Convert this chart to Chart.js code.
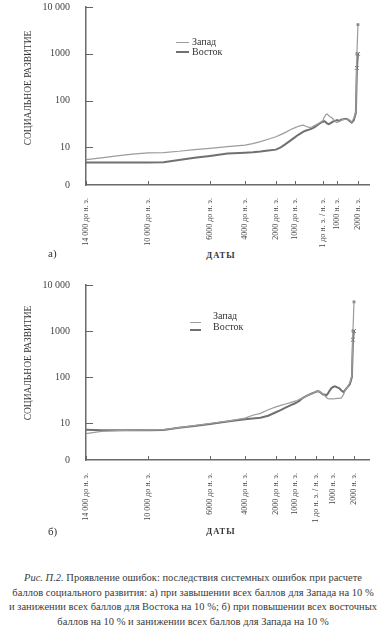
<!DOCTYPE html>
<html>
<head>
<meta charset="utf-8">
<script src="https://cdn.jsdelivr.net/npm/chart.js@4.4.1/dist/chart.umd.min.js"></script>
<style>
  body { margin: 0; background: #fff; width: 386px; height: 640px; position: relative; overflow: hidden;
         font-family: "Liberation Serif", "DejaVu Serif", serif; color: #333; }
  canvas { position: absolute; left: 0; }
  .ytitle { position: absolute; font-size: 9.5px; white-space: nowrap; transform: translate(-50%, -50%) rotate(-90deg); }
  .tag { position: absolute; font-size: 11px; line-height: 12px; }
  .axt { position: absolute; font-size: 8.5px; font-weight: bold; letter-spacing: 1px; line-height: 10px; transform: translateX(-50%); }
  .leg { position: absolute; font-size: 10px; line-height: 12px; white-space: nowrap; }
  .smp { position: absolute; height: 0; }
  .cap { position: absolute; left: 0; top: 571px; width: 386px; text-align: center; font-size: 10.5px; line-height: 14.7px; color: #3a3a3a; }
  .cap div { white-space: nowrap; }
</style>
</head>
<body>
<canvas id="chartA" width="386" height="250" style="top:0"></canvas>
<canvas id="chartB" width="386" height="250" style="top:278px"></canvas>

<div class="ytitle" style="left:28px; top:88px">СОЦИАЛЬНОЕ РАЗВИТИЕ</div>
<div class="ytitle" style="left:28px; top:363px">СОЦИАЛЬНОЕ РАЗВИТИЕ</div>

<div class="tag" style="left:48px; top:247px">а)</div>
<div class="axt" style="left:221px; top:250px">ДАТЫ</div>
<div class="tag" style="left:48px; top:525px">б)</div>
<div class="axt" style="left:221px; top:526px">ДАТЫ</div>

<!-- legends -->
<div class="smp" style="left:176px; top:42px; width:13px; border-top:1px solid #9c9c9c"></div>
<div class="smp" style="left:176px; top:51px; width:13px; border-top:2px solid #707070"></div>
<div class="leg" style="left:192px; top:36px">Запад</div>
<div class="leg" style="left:192px; top:46px">Восток</div>

<div class="smp" style="left:190px; top:322px; width:11px; border-top:1px solid #9c9c9c"></div>
<div class="smp" style="left:190px; top:329px; width:11px; border-top:2px solid #707070"></div>
<div class="leg" style="left:213px; top:310px">Запад</div>
<div class="leg" style="left:213px; top:321px">Восток</div>

<div class="cap">
  <div><i>Рис. П.2.</i> Проявление ошибок: последствия системных ошибок при расчете</div>
  <div>баллов социального развития: а) при завышении всех баллов для Запада на 10 %</div>
  <div>и занижении всех баллов для Востока на 10 %; б) при повышении всех восточных</div>
  <div>баллов на 10 % и занижении всех баллов для Запада на 10 %</div>
</div>

<script>
// даты (годы, минус = до н. э.)
const years = [-14000, -13000, -12000, -11000, -10000, -9000, -8000, -7000, -6000, -5000, -4000,
  -3500, -3000, -2500, -2000, -1750, -1500, -1250, -1000,
  -900, -800, -700, -600, -500, -400, -300, -200, -100, 0,
  100, 200, 300, 400, 500, 600, 700, 800, 900, 1000,
  1100, 1200, 1300, 1400, 1500, 1600, 1700, 1800, 1900, 1950, 2000];

// а) Запад +10 %, Восток -10 %
const westA = [5.5, 6.0, 6.6, 7.2, 7.7, 7.8, 8.3, 9.0, 9.6, 10.4, 11.2,
  12.1, 13.3, 15, 16.9, 18.8, 21, 24, 26.5,
  28, 29.3, 30, 28, 27, 27.3, 29.3, 31.5, 34, 37.5,
  44, 50, 52, 48, 46, 43.5, 41, 38, 35.5, 34,
  36, 38, 40, 40, 41, 38, 35, 42, 60, 1000, 4200];
const eastA = [4.8, 4.8, 4.8, 4.8, 4.8, 4.85, 5.4, 6.0, 6.6, 7.4, 7.7,
  7.9, 8.2, 8.6, 9.0, 10.1, 11.8, 14, 16.6,
  18.4, 20, 21.8, 23, 24, 25.3, 27.2, 30, 33, 35.5,
  36.6, 35, 32.5, 31.5, 32.5, 34, 35.5, 36.6, 37.5, 38.5,
  37, 39, 40, 41, 40, 37, 34, 38, 55, 500, 1000];

// б) Восток +10 %, Запад -10 %
const westB = [5.9, 6.6, 6.9, 7.0, 7.0, 7.2, 8.0, 8.8, 9.8, 11, 12.8,
  14.8, 16.3, 19.5, 22.5, 24.2, 26, 27.8, 30,
  31, 33, 34.5, 36.5, 38, 40, 42, 44, 46, 48.5,
  49, 48.5, 46, 43, 40, 36.5, 34, 33.7, 33.7, 33.7,
  34, 34.5, 34.5, 35.3, 42, 54, 61, 75, 110, 1000, 4300];
const eastB = [7.2, 7.0, 7.0, 7.0, 7.0, 7.1, 7.9, 8.7, 9.6, 10.8, 12.1,
  12.6, 13.1, 14.5, 17.2, 19.2, 21.6, 24.2, 27,
  28.5, 30.4, 33.5, 36, 38, 40, 42, 44, 46, 48,
  49.5, 48, 45, 42, 42, 40, 44, 51, 57, 61,
  63, 60, 57, 51, 47, 54, 61, 70, 100, 650, 1000];

const tickYears = [-14000, -10000, -6000, -4000, -2000, -1000, 0, 1000, 2000];
const tickLabels = ['14 000 до н. э.', '10 000 до н. э.', '6000 до н. э.', '4000 до н. э.',
  '2000 до н. э.', '1000 до н. э.', '1 до н. э. / н. э.', '1000 н. э.', '2000 н. э.'];
const yMin = 1.58;
const yTicks = [10, 100, 1000, 10000];

// шкала дат в книге неравномерная: кусочно-линейная ось
class WarpScale extends Chart.LinearScale {
  getPixelForValue(value) {
    const ky = this.options.knotYears, kf = this.options.knotFrac;
    let i = 0;
    while (i < ky.length - 2 && value > ky[i + 1]) i++;
    const f = kf[i] + (value - ky[i]) / (ky[i + 1] - ky[i]) * (kf[i + 1] - kf[i]);
    return this.getPixelForDecimal(f);
  }
}
WarpScale.id = 'warp';
WarpScale.defaults = {};
Chart.register(WarpScale);

const innerTicks = {
  id: 'innerTicks',
  afterDraw(chart) {
    const { ctx, scales: { x, y } } = chart;
    ctx.save();
    ctx.strokeStyle = '#666';
    ctx.lineWidth = 1;
    y.ticks.forEach((t, i) => {
      if (i === 0) return;
      const py = Math.round(y.getPixelForValue(t.value)) + 0.5;
      ctx.beginPath(); ctx.moveTo(x.left, py); ctx.lineTo(x.left + 7, py); ctx.stroke();
    });
    x.ticks.forEach(t => {
      const px = Math.round(x.getPixelForValue(t.value)) + 0.5;
      ctx.beginPath(); ctx.moveTo(px, y.bottom); ctx.lineTo(px, y.bottom - 4); ctx.stroke();
    });
    ctx.restore();
  }
};

function series(vals) {
  return years.map((yr, i) => ({ x: yr, y: vals[i] }));
}

function makeChart(id, west, east, knotFrac, topGap, xAxisH) {
  return new Chart(document.getElementById(id), {
    type: 'line',
    data: {
      datasets: [
        { label: 'Запад', data: series(west), borderColor: '#9c9c9c', borderWidth: 1.2,
          pointRadius: c => (c.raw && c.raw.y >= 400 ? 2 : 0), pointStyle: 'rect',
          pointBackgroundColor: '#8a8a8a', pointBorderWidth: 0, tension: 0 },
        { label: 'Восток', data: series(east), borderColor: '#707070', borderWidth: 2,
          pointRadius: c => (c.raw && c.raw.y >= 400 ? 2.5 : 0), pointStyle: 'crossRot',
          pointBorderColor: '#555', pointBorderWidth: 1, tension: 0 }
      ]
    },
    options: {
      responsive: false,
      animation: false,
      devicePixelRatio: 1,
      layout: { padding: { top: 0, right: 17, left: 0, bottom: 0 } },
      plugins: { legend: { display: false }, tooltip: { enabled: false } },
      scales: {
        x: {
          type: 'warp',
          min: -14000, max: 2500,
          knotYears: [-14000, -10000, -6000, -4000, -2000, -1000, 0, 1000, 2000, 2500],
          knotFrac: knotFrac,
          afterBuildTicks: s => { s.ticks = tickYears.map(v => ({ value: v })); },
          afterFit: s => { s.height = xAxisH; },
          grid: { display: false },
          border: { display: true, color: '#6a6a6a', width: 1.5 },
          ticks: {
            autoSkip: false, minRotation: 90, maxRotation: 90, padding: 5,
            color: '#444', font: { family: 'Liberation Serif', size: 8 },
            callback: v => tickLabels[tickYears.indexOf(v)]
          }
        },
        y: {
          type: 'logarithmic',
          min: yMin, max: 10000,
          afterBuildTicks: s => { s.ticks = [yMin, ...yTicks].map(v => ({ value: v })); },
          afterFit: s => { s.width = 86; s.paddingTop = topGap; },
          grid: { display: false },
          border: { display: true, color: '#6a6a6a', width: 1.5 },
          ticks: {
            padding: 8, color: '#444', font: { family: 'Liberation Serif', size: 10 },
            callback: v => (v === yMin ? '0' : v === 10000 ? '10 000' : String(v))
          }
        }
      }
    },
    plugins: [innerTicks]
  });
}

makeChart('chartA', westA, eastA, [0, .219, .438, .562, .671, .739, .837, .887, .961, 1], 7, 65);
makeChart('chartB', westB, eastB, [0, .219, .438, .562, .671, .739, .813, .873, .947, 1], 7, 68);
</script>
</body>
</html>
